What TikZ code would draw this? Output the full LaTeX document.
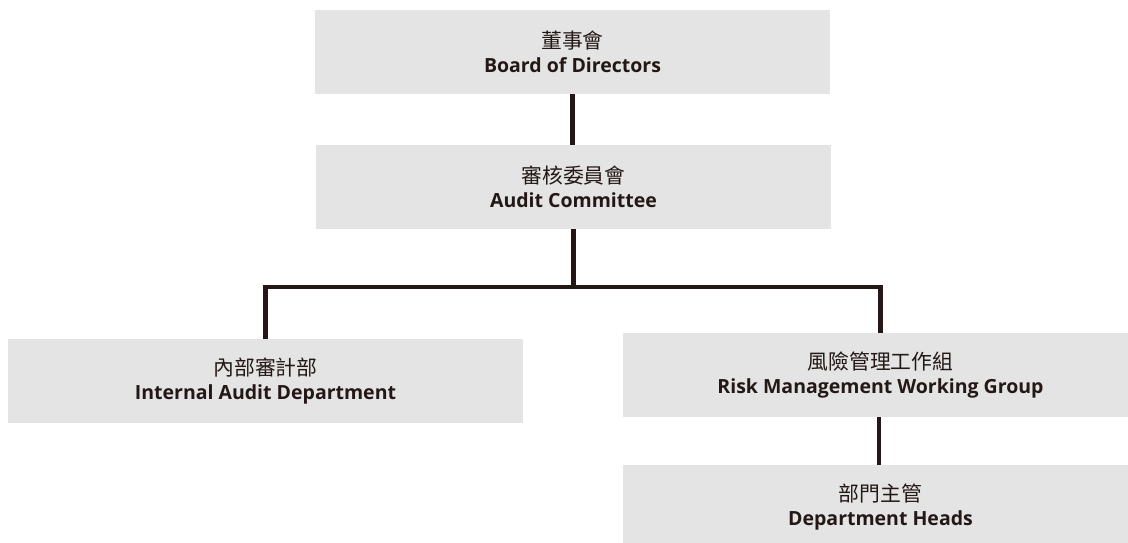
\documentclass[tikz,border=0pt]{standalone}
\usepackage{fontspec}
\setmainfont{Open Sans}
\newfontfamily\cjk{Noto Sans CJK TC}
\usetikzlibrary{positioning}
\definecolor{boxgray}{HTML}{E4E4E4}
\definecolor{inkblack}{HTML}{231815}
\tikzset{
  orgbox/.style={
    rectangle,
    fill=boxgray,
    minimum width=515pt,
    minimum height=84pt,
    inner sep=0pt,
    align=center,
    text=inkblack,
    font=\fontsize{19.5}{23.5}\selectfont},
  link/.style={draw=inkblack, line width=4.2pt},
}
\newcommand{\orgtext}[2]{{\cjk\fontsize{20.8}{23.5}\selectfont #1}\\{\bfseries #2}}

\begin{document}
\begin{tikzpicture}[x=1pt,y=-1pt]
    \useasboundingbox (0,0) rectangle (1128,542);
    % boxes
    \node[orgbox] (board) at (572.5,52) {\orgtext{董事會}{Board of Directors}};
    \node[orgbox] (audit) at (573.5,187) {\orgtext{審核委員會}{Audit Committee}};
    \node[orgbox] (internal) at (265.5,381) {\orgtext{內部審計部}{Internal Audit Department}};
    \node[orgbox] (risk) at (880.5,375) {\orgtext{風險管理工作組}{Risk Management Working Group}};
    \node[orgbox] (heads) at (880.5,507) {\orgtext{部門主管}{Department Heads}};
    \coordinate (bus) at (573,287);
    % connectors
    \draw[link] (board.south) -- (board.south |- audit.north);
    \draw[link] (audit.south) -- (audit.south |- bus);
    \draw[link] (internal.north) |- (bus) -| (risk.north);
    \draw[link] ([xshift=-1.5pt]risk.south) -- ([xshift=-1.5pt]heads.north);
\end{tikzpicture}
\end{document}
